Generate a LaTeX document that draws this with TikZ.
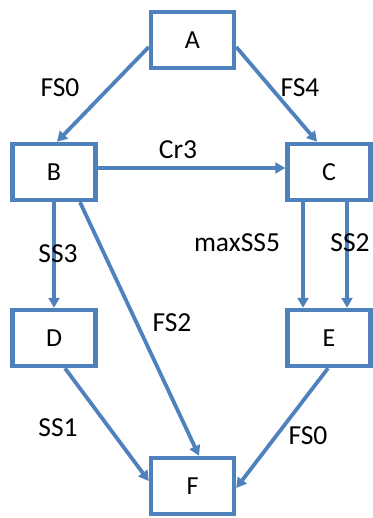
\documentclass[tikz,border=0pt]{standalone}
\usepackage{fontspec}
\setmainfont{Carlito}
\usetikzlibrary{arrows.meta}
\definecolor{boxblue}{RGB}{79,129,189}
\begin{document}
\begin{tikzpicture}[x=1pt,y=-1pt,
  blockbox/.style={draw=boxblue,line width=4.5pt,fill=white,minimum width=83pt,minimum height=56pt,inner sep=0pt,font=\fontsize{26}{28}\selectfont},
  conn/.style={draw=boxblue,line width=3.8pt,-{Triangle[length=10pt,width=11pt]}},
  lbl/.style={font=\fontsize{27.5}{30}\selectfont,inner sep=0pt}]
\useasboundingbox (0,0) rectangle (372,518);
\node[blockbox] (A) at (192.5,40) {A};
\node[blockbox] (B) at (54,172) {B};
\node[blockbox] (C) at (329,172) {C};
\node[blockbox] (D) at (54,338) {D};
\node[blockbox] (E) at (329,338) {E};
\node[blockbox] (F) at (192.5,486) {F};
\draw[conn] ([yshift=-7pt]A.west) -- ([xshift=3pt]B.north);
\draw[conn] ([yshift=-7pt]A.east) -- ([xshift=-12pt]C.north);
\draw[conn] ([yshift=4pt]B.east) -- ([yshift=4pt]C.west);
\draw[conn] (B.south) -- (D.north);
\draw[conn] ([xshift=26pt]B.south) -- ([xshift=6.5pt]F.north);
\draw[conn] ([xshift=-26pt]C.south) -- ([xshift=-26pt]E.north);
\draw[conn] ([xshift=18pt]C.south) -- ([xshift=18pt]E.north);
\draw[conn] ([xshift=11pt]D.south) -- ([yshift=5pt]F.west);
\draw[conn] ([xshift=-1pt]E.south) -- ([yshift=-2pt]F.east);
\node[lbl] (l1) at (60,88) {FS0};
\node[lbl] (l2) at (300,88) {FS4};
\node[lbl] (l3) at (178,150) {Cr3};
\node[lbl] (l4) at (237,243) {maxSS5};
\node[lbl] (l5) at (350,243) {SS2};
\node[lbl] (l6) at (58,254) {SS3};
\node[lbl] (l7) at (172,323) {FS2};
\node[lbl] (l8) at (58,428) {SS1};
\node[lbl] (l9) at (308,436) {FS0};
\end{tikzpicture}
\end{document}
